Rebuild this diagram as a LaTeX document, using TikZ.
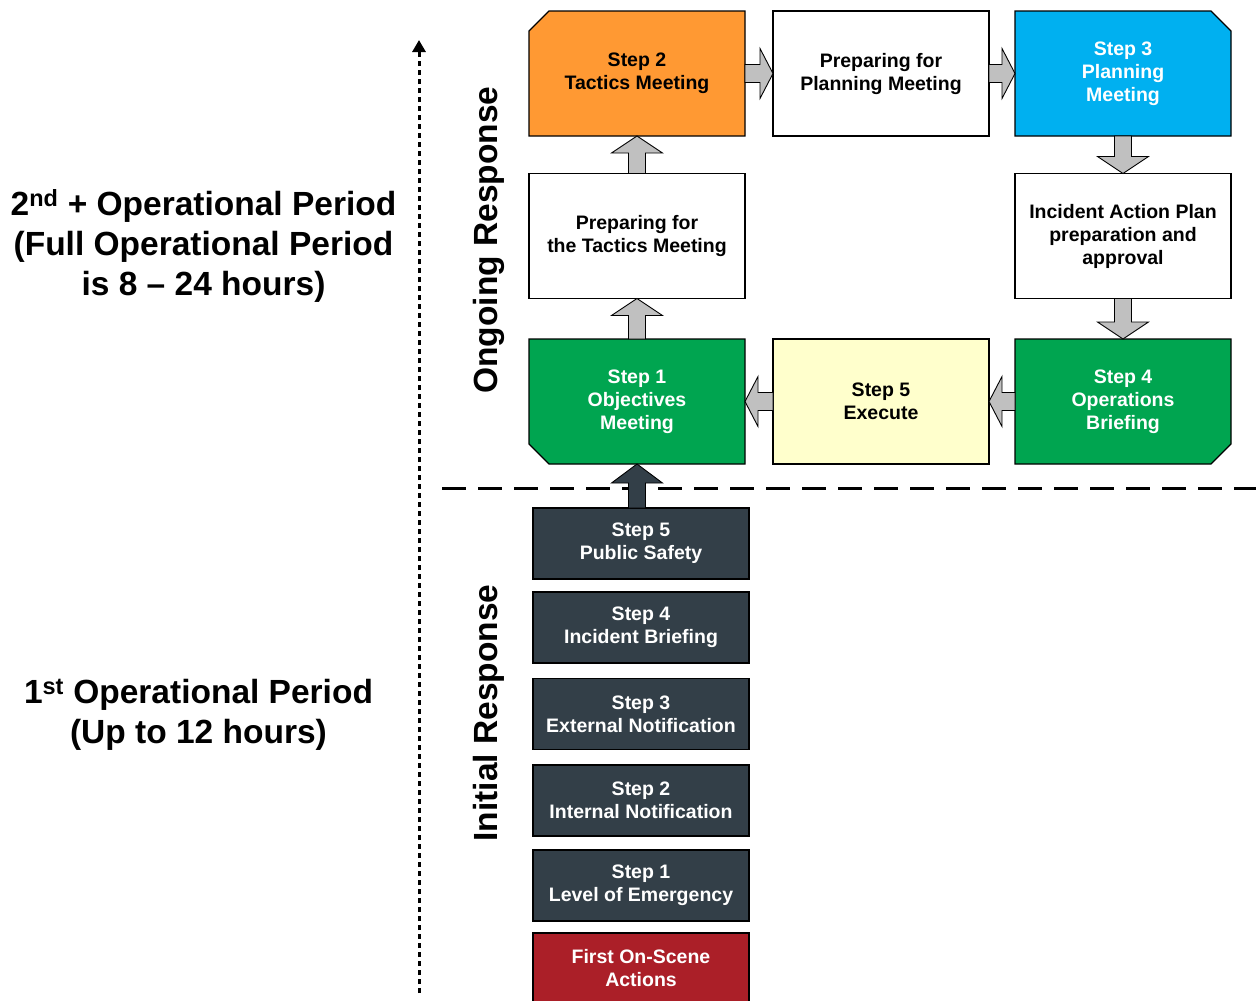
\documentclass[tikz,border=0pt]{standalone}
\usepackage{fontspec}
\setmainfont{Liberation Sans}
\usetikzlibrary{calc,arrows.meta,backgrounds}
\definecolor{cOrange}{HTML}{FF9933}
\definecolor{cBlue}{HTML}{00B0F0}
\definecolor{cGreen}{HTML}{00A550}
\definecolor{cYellow}{HTML}{FFFFCC}
\definecolor{cDark}{HTML}{333F48}
\definecolor{cRed}{HTML}{AB1F28}
\definecolor{cGray}{HTML}{C0C0C0}
\newcommand\bxfont{\fontsize{19.5}{23}\selectfont\bfseries}
\newcommand\bigfont{\fontsize{33.5}{40}\selectfont\bfseries}
% vertical block arrow: #1 style, #2 tail anchor, #3 tip anchor, #4 signed head length
\newcommand\arrV[4]{\filldraw[#1] ($(#3|-#2)+(-8.5,0)$) -- ($(#3)+(-8.5,#4)$) -- ($(#3)+(-25.5,#4)$) -- (#3) -- ($(#3)+(25.5,#4)$) -- ($(#3)+(8.5,#4)$) -- ($(#3|-#2)+(8.5,0)$) -- cycle;}
% horizontal block arrow
\newcommand\arrH[4]{\filldraw[#1] ($(#3-|#2)+(0,-9)$) -- ($(#3)+(#4,-9)$) -- ($(#3)+(#4,-25)$) -- (#3) -- ($(#3)+(#4,25)$) -- ($(#3)+(#4,9)$) -- ($(#3-|#2)+(0,9)$) -- cycle;}
\begin{document}
\begin{tikzpicture}[x=1pt,y=-1pt,
  box/.style={minimum width=216pt, minimum height=125pt, inner sep=0pt, outer sep=0pt, align=center, font=\bxfont, line width=1.2pt},
  ibox/.style={minimum width=216pt, minimum height=71pt, inner sep=0pt, outer sep=0pt, align=center, font=\bxfont, line width=1.2pt, draw=black, fill=cDark, text=white},
  grayarr/.style={fill=cGray, draw=black, line width=0.9pt},
  darkarr/.style={fill=cDark, draw=black, line width=0.9pt},
  biglabel/.style={font=\bigfont, align=center, inner sep=0pt}]
\useasboundingbox (0,0) rectangle (1256,1001);

% ongoing response grid
\node[box] (s2) at (637,73.5) {Step 2\\Tactics Meeting};
\node[box, draw=black, fill=white] (pp) at (881,73.5) {Preparing for\\Planning Meeting};
\node[box, text=white] (s3) at (1123,73.5) {Step 3\\Planning\\Meeting};
\node[box, draw=black, fill=white] (pt) at (637,236) {Preparing for\\the Tactics Meeting};
\node[box, draw=black, fill=white] (iap) at (1123,236) {Incident Action Plan\\preparation and\\approval};
\node[box, text=white] (s1) at (637,401.5) {Step 1\\Objectives\\Meeting};
\node[box, draw=black, fill=cYellow] (ex) at (881,401.5) {Step 5\\Execute};
\node[box, text=white] (s4) at (1123,401.5) {Step 4\\Operations\\Briefing};

\begin{scope}[on background layer]
\filldraw[fill=cOrange, line width=1.2pt] ($(s2.north west)+(0,20)$) -- ($(s2.north west)+(20,0)$) -- (s2.north east) -- (s2.south east) -- (s2.south west) -- cycle;
\filldraw[fill=cBlue, line width=1.2pt] (s3.north west) -- ($(s3.north east)+(-20,0)$) -- ($(s3.north east)+(0,20)$) -- (s3.south east) -- (s3.south west) -- cycle;
\filldraw[fill=cGreen, line width=1.2pt] (s1.north west) -- (s1.north east) -- (s1.south east) -- ($(s1.south west)+(20,0)$) -- ($(s1.south west)+(0,-20)$) -- cycle;
\filldraw[fill=cGreen, line width=1.2pt] (s4.north west) -- (s4.north east) -- ($(s4.south east)+(0,-20)$) -- ($(s4.south east)+(-20,0)$) -- (s4.south west) -- cycle;
\end{scope}

% initial response stack
\node[ibox] (i5) at (641,543.5) {Step 5\\Public Safety};
\node[ibox] (i4) at (641,627.5) {Step 4\\Incident Briefing};
\node[ibox] (i3) at (641,714) {Step 3\\External Notification};
\node[ibox] (i2) at (641,800.5) {Step 2\\Internal Notification};
\node[ibox] (i1) at (641,885.5) {Step 1\\Level of Emergency};
\node[ibox, fill=cRed, minimum height=70pt] (fa) at (641,968) {First On-Scene\\Actions};

% dashed separator
\coordinate (dashL) at (442,488);
\coordinate (dashR) at (1256,488);
\draw[line width=3pt, dash pattern=on 24pt off 12pt] (dashL) -- (dashR);

% block arrows
\arrV{grayarr}{s1.north}{pt.south}{17}
\arrV{grayarr}{pt.north}{s2.south}{17}
\arrH{grayarr}{s2.east}{pp.west}{-13}
\arrH{grayarr}{pp.east}{s3.west}{-13}
\arrV{grayarr}{s3.south}{iap.north}{-17}
\arrV{grayarr}{iap.south}{s4.north}{-17}
\arrH{grayarr}{s4.west}{ex.east}{13}
\arrH{grayarr}{ex.west}{s1.east}{13}
\arrV{darkarr}{i5.north}{s1.south}{19}

% dotted time axis
\coordinate (dotB) at (419,993);
\coordinate (dotT) at (419,40);
\draw[line width=3pt, dash pattern=on 5pt off 4pt, -{Triangle[length=12pt,width=13pt]}] (dotB) -- (dotT);

% vertical labels
\node[biglabel, rotate=90] (ong) at (489,240) {Ongoing Response};
\node[biglabel, rotate=90] (ini) at (489,713) {Initial Response};

% period labels
\node[biglabel] (p2) at (203.5,245.5) {2\textsuperscript{nd} + Operational Period\\(Full Operational Period\\is 8 -- 24 hours)};
\node[biglabel] (p1) at (198.5,714.5) {1\textsuperscript{st} Operational Period\\(Up to 12 hours)};
\end{tikzpicture}
\end{document}
